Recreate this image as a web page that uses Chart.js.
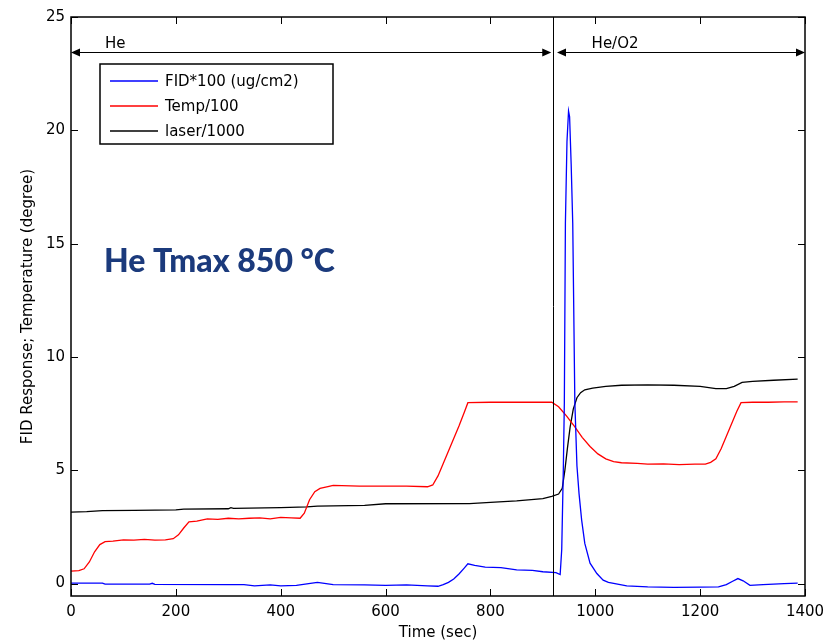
<!DOCTYPE html>
<html>
<head>
<meta charset="utf-8">
<script src="https://cdn.jsdelivr.net/npm/chart.js@4/dist/chart.umd.min.js"></script>
<style>
  html, body { margin: 0; padding: 0; background: #fff; }
  #wrap { width: 829px; height: 642px; }
</style>
</head>
<body>
<div id="wrap"><canvas id="chart" width="829" height="642"></canvas></div>
<script>
// time axis ticks / value axis ticks
const xTicks = [0, 200, 400, 600, 800, 1000, 1200, 1400];
const yTicks = [0, 5, 10, 15, 20, 25];

// FID*100 (ug/cm2)
const fidTime = [0, 60, 65, 150, 155, 160, 300, 330, 350, 380, 400, 430, 460, 470, 500, 560, 600, 640, 680, 700,
  710, 720, 730, 740, 750, 757, 770, 790, 820, 850, 880, 900, 925, 933, 936, 939, 941, 943, 946, 949,
  951, 954, 957, 961, 965, 969, 974, 980, 990, 1003, 1015, 1025, 1060, 1100, 1150, 1200, 1235, 1250, 1262, 1272,
  1282, 1295, 1320, 1360, 1386];
const fidValues = [0.02, 0.02, -0.03, -0.03, 0.01, -0.04, -0.05, -0.05, -0.1, -0.06, -0.1, -0.08, 0.02, 0.05, -0.05, -0.06, -0.08, -0.06, -0.1, -0.12,
  -0.05, 0.05, 0.2, 0.42, 0.68, 0.87, 0.8, 0.72, 0.7, 0.6, 0.58, 0.52, 0.48, 0.4, 1.5, 5.0, 8.0, 15.9, 19.5, 20.85,
  20.6, 18.5, 15.9, 8.0, 5.2, 3.97, 2.8, 1.77, 0.9, 0.44, 0.15, 0.05, -0.1, -0.15, -0.17, -0.16, -0.15, -0.05, 0.1, 0.22,
  0.12, -0.08, -0.05, 0.0, 0.02];

// Temp/100
const tempTime = [0, 15, 25, 35, 45, 55, 65, 80, 100, 120, 140, 160, 180, 195, 205, 215, 225, 240, 260, 280,
  300, 320, 340, 360, 380, 400, 420, 437, 445, 455, 465, 475, 490, 500, 550, 600, 640, 680, 690, 700,
  710, 720, 730, 740, 750, 757, 800, 850, 900, 917, 930, 945, 960, 975, 990, 1005, 1020, 1035, 1050, 1080,
  1100, 1130, 1160, 1190, 1210, 1220, 1230, 1240, 1250, 1260, 1270, 1278, 1300, 1330, 1360, 1386];
const tempValues = [0.55, 0.57, 0.65, 0.95, 1.4, 1.72, 1.85, 1.87, 1.93, 1.92, 1.95, 1.92, 1.93, 1.98, 2.15, 2.45, 2.72, 2.75, 2.85, 2.83,
  2.88, 2.85, 2.88, 2.9, 2.85, 2.92, 2.9, 2.88, 3.1, 3.7, 4.05, 4.2, 4.28, 4.33, 4.3, 4.3, 4.3, 4.27, 4.35, 4.75,
  5.3, 5.85, 6.4, 6.95, 7.55, 7.98, 8.0, 8.0, 8.0, 8.0, 7.8, 7.4, 6.95, 6.45, 6.05, 5.72, 5.5, 5.38, 5.33, 5.3,
  5.27, 5.28, 5.25, 5.27, 5.27, 5.35, 5.5, 5.95, 6.5, 7.05, 7.6, 7.98, 8.0, 8.0, 8.02, 8.02];

// laser/1000
const laserTime = [0, 30, 60, 120, 200, 215, 300, 305, 310, 400, 450, 470, 560, 600, 760, 800, 850, 900, 917, 930,
  937, 942, 947, 952, 958, 965, 972, 980, 995, 1020, 1050, 1100, 1150, 1200, 1230, 1250, 1265, 1280, 1300, 1340, 1386];
const laserValues = [3.15, 3.17, 3.22, 3.23, 3.25, 3.28, 3.3, 3.35, 3.32, 3.35, 3.38, 3.42, 3.45, 3.52, 3.53, 3.58, 3.65, 3.75, 3.85, 3.95,
  4.2, 5.0, 6.0, 6.9, 7.7, 8.2, 8.42, 8.55, 8.62, 8.7, 8.75, 8.77, 8.75, 8.7, 8.6, 8.6, 8.7, 8.88, 8.92, 8.97, 9.02];

const seriesLabels = ['FID*100 (ug/cm2)', 'Temp/100', 'laser/1000'];
const seriesColors = ['#0000ff', '#ff0000', '#000000'];

// gas switch and phase labels
const switchTime = 919;
const arrowLevel = 23.45;
const phases = [
  { label: 'He', from: 0, to: 916, textAt: 65 },
  { label: 'He/O2', from: 927, to: 1400, textAt: 993 }
];
const note = 'He Tmax 850 \u00B0C';

const FONT = '"DejaVu Sans", Verdana, sans-serif';

function pts(xs, ys) {
  return xs.map((x, i) => ({ x: x, y: ys[i] }));
}

function arrowHead(ctx, x, y, dir) {
  ctx.beginPath();
  ctx.moveTo(x, y);
  ctx.lineTo(x - dir * 9, y - 4);
  ctx.lineTo(x - dir * 9, y + 4);
  ctx.closePath();
  ctx.fill();
}

const decorations = {
  id: 'decorations',
  afterDatasetsDraw(chart) {
    const { ctx, chartArea: a, scales: { x, y } } = chart;
    ctx.save();

    // frame
    ctx.strokeStyle = '#000';
    ctx.lineWidth = 1.5;
    ctx.strokeRect(a.left, a.top, a.right - a.left, a.bottom - a.top);

    // inward ticks on all four sides
    ctx.lineWidth = 1;
    ctx.beginPath();
    xTicks.forEach(v => {
      const px = Math.round(x.getPixelForValue(v)) + 0.5;
      ctx.moveTo(px, a.bottom); ctx.lineTo(px, a.bottom - 7);
      ctx.moveTo(px, a.top); ctx.lineTo(px, a.top + 7);
    });
    yTicks.forEach(v => {
      const py = Math.round(y.getPixelForValue(v)) + 0.5;
      ctx.moveTo(a.left, py); ctx.lineTo(a.left + 7, py);
      ctx.moveTo(a.right, py); ctx.lineTo(a.right - 7, py);
    });
    ctx.stroke();

    // vertical switch line
    const sx = Math.round(x.getPixelForValue(switchTime)) + 0.5;
    ctx.beginPath();
    ctx.moveTo(sx, a.top);
    ctx.lineTo(sx, a.bottom);
    ctx.stroke();

    // phase arrows
    const ay = Math.round(y.getPixelForValue(arrowLevel)) + 0.5;
    ctx.fillStyle = '#000';
    ctx.font = '15px ' + FONT;
    ctx.textBaseline = 'alphabetic';
    ctx.textAlign = 'left';
    phases.forEach(p => {
      const x0 = x.getPixelForValue(p.from);
      const x1 = x.getPixelForValue(p.to);
      ctx.beginPath();
      ctx.moveTo(x0 + 4, ay);
      ctx.lineTo(x1 - 4, ay);
      ctx.stroke();
      arrowHead(ctx, x0, ay, -1);
      arrowHead(ctx, x1, ay, 1);
      ctx.fillText(p.label, x.getPixelForValue(p.textAt), ay - 5);
    });

    // legend box
    const lx = 100, ly = 64, lw = 233, lh = 80;
    ctx.fillStyle = '#fff';
    ctx.fillRect(lx, ly, lw, lh);
    ctx.lineWidth = 1.5;
    ctx.strokeRect(lx, ly, lw, lh);
    ctx.font = '15px ' + FONT;
    ctx.textBaseline = 'middle';
    chart.data.datasets.forEach((ds, i) => {
      const ry = ly + 17 + i * 25;
      ctx.strokeStyle = ds.borderColor;
      ctx.lineWidth = 1.3;
      ctx.beginPath();
      ctx.moveTo(lx + 10, ry);
      ctx.lineTo(lx + 58, ry);
      ctx.stroke();
      ctx.fillStyle = '#000';
      ctx.fillText(ds.label, lx + 65, ry + 1);
    });

    // annotation
    ctx.fillStyle = '#1b3a7c';
    ctx.font = '900 32px Lato, "Open Sans", sans-serif';
    ctx.textBaseline = 'alphabetic';
    ctx.fillText(note, x.getPixelForValue(63), y.getPixelForValue(13.75));

    ctx.restore();
  }
};

new Chart(document.getElementById('chart'), {
  type: 'line',
  data: {
    datasets: [
      { label: seriesLabels[0], data: pts(fidTime, fidValues), borderColor: seriesColors[0] },
      { label: seriesLabels[1], data: pts(tempTime, tempValues), borderColor: seriesColors[1] },
      { label: seriesLabels[2], data: pts(laserTime, laserValues), borderColor: seriesColors[2] }
    ]
  },
  options: {
    responsive: false,
    animation: false,
    parsing: false,
    layout: { padding: { top: 17, right: 24, left: 0, bottom: 0 } },
    elements: {
      line: { borderWidth: 1.3, tension: 0, fill: false },
      point: { radius: 0 }
    },
    plugins: {
      legend: { display: false },
      tooltip: { enabled: false }
    },
    scales: {
      x: {
        type: 'linear',
        min: 0,
        max: 1400,
        afterFit: s => { s.height = 46; s.paddingLeft = 0; s.paddingRight = 0; },
        afterBuildTicks: s => { s.ticks = xTicks.map(v => ({ value: v })); },
        grid: { display: false, drawTicks: false },
        border: { display: false },
        ticks: { color: '#000', font: { family: FONT, size: 15 }, padding: 7, maxRotation: 0, callback: v => String(v) },
        title: { display: true, text: 'Time (sec)', color: '#000', font: { family: FONT, size: 15 }, padding: { top: 0, bottom: 0 } }
      },
      y: {
        type: 'linear',
        min: -0.55,
        max: 25,
        afterFit: s => { s.width = 71; s.paddingTop = 0; s.paddingBottom = 0; },
        afterBuildTicks: s => { s.ticks = yTicks.map(v => ({ value: v })); },
        grid: { display: false, drawTicks: false },
        border: { display: false },
        ticks: { color: '#000', font: { family: FONT, size: 15 }, padding: 6, callback: v => String(v) },
        title: { display: true, text: 'FID Response; Temperature (degree)', color: '#000', font: { family: FONT, size: 15 }, padding: { top: 19, bottom: 0 } }
      }
    }
  },
  plugins: [decorations]
});
</script>
</body>
</html>
